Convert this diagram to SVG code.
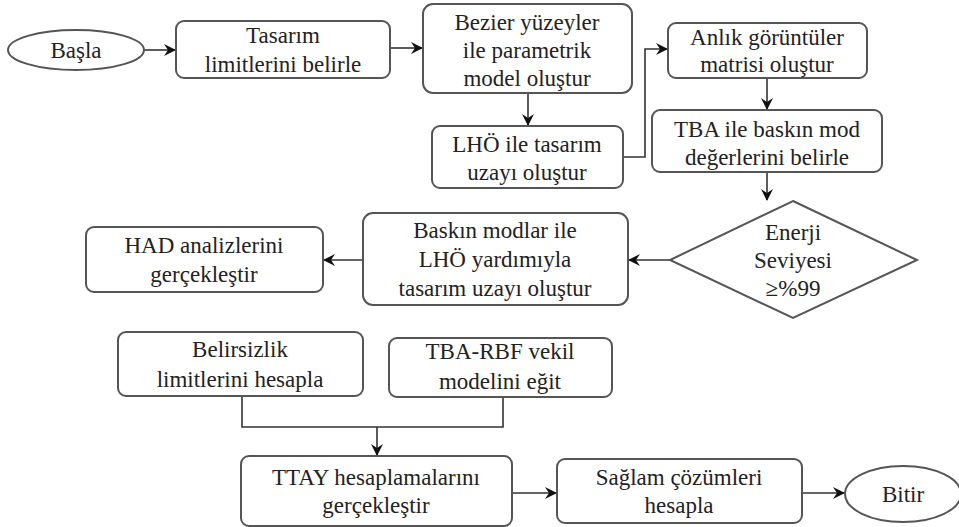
<svg xmlns="http://www.w3.org/2000/svg" width="959" height="527" viewBox="0 0 959 527">
<style>
.b{fill:#fff;stroke:#555;stroke-width:2}
.c{fill:none;stroke:#333;stroke-width:1.6}
.a{marker-end:url(#ah)}
text{font-family:'Liberation Serif','Times New Roman',serif;font-size:23px;fill:#222;text-anchor:middle}
</style>
<defs>
<marker id="ah" markerWidth="12" markerHeight="12" refX="11" refY="6" orient="auto" markerUnits="userSpaceOnUse">
<path d="M0,0 L12,6 L0,12 L4,6 z" fill="#111"/>
</marker>
</defs>
<rect width="959" height="527" fill="#fff"/>
<g id="connectors">
<path class="c a" d="M145,50 H175"/>
<path class="c a" d="M390,48 H422"/>
<path class="c a" d="M528,93 V125"/>
<path class="c a" d="M623,157 H645 V49 H667"/>
<path class="c a" d="M767,78 V109"/>
<path class="c a" d="M767,172 V200"/>
<path class="c a" d="M670,260 H629"/>
<path class="c a" d="M363,260 H324"/>
<path class="c" d="M242,396 V427 H503 V397"/>
<path class="c a" d="M377,427 V455"/>
<path class="c a" d="M512,493 H556"/>
<path class="c a" d="M802,493 H844"/>
</g>
<g id="basla"><ellipse class="b" cx="76" cy="50" rx="68" ry="20"/><text x="76" y="58">Başla</text></g>
<g id="tasarim"><rect class="b" x="176" y="21" width="214" height="57" rx="8"/><text x="283" y="43">Tasarım</text><text x="283" y="72">limitlerini  belirle</text></g>
<g id="bezier"><rect class="b" x="423" y="4" width="209" height="89" rx="10"/><text x="527" y="30">Bezier  yüzeyler</text><text x="527" y="58">ile  parametrik</text><text x="527" y="86">model oluştur</text></g>
<g id="lho"><rect class="b" x="432" y="126" width="191" height="62" rx="8"/><text x="527" y="152">LHÖ ile  tasarım</text><text x="527" y="180">uzayı oluştur</text></g>
<g id="anlik"><rect class="b" x="668" y="23" width="199" height="55" rx="8"/><text x="767" y="45">Anlık görüntüler</text><text x="767" y="72">matrisi  oluştur</text></g>
<g id="tba"><rect class="b" x="652" y="110" width="230" height="62" rx="8"/><text x="767" y="137">TBA ile  baskın mod</text><text x="767" y="165">değerlerini  belirle</text></g>
<g id="enerji"><polygon class="b" points="793,201 917,260 793,318 670,260"/><text x="793" y="240">Enerji</text><text x="793" y="268">Seviyesi</text><text x="793" y="296">≥%99</text></g>
<g id="baskin"><rect class="b" x="363" y="213" width="265" height="92" rx="10"/><text x="495" y="238">Baskın modlar ile</text><text x="495" y="267">LHÖ yardımıyla</text><text x="495" y="296">tasarım uzayı oluştur</text></g>
<g id="had"><rect class="b" x="86" y="227" width="237" height="65" rx="8"/><text x="204" y="253">HAD analizlerini</text><text x="204" y="282">gerçekleştir</text></g>
<g id="belirsizlik"><rect class="b" x="118" y="332" width="245" height="64" rx="8"/><text x="240" y="357">Belirsizlik</text><text x="240" y="387">limitlerini  hesapla</text></g>
<g id="tbarbf"><rect class="b" x="389" y="338" width="223" height="59" rx="8"/><text x="500" y="359">TBA-RBF vekil</text><text x="500" y="389">modelini  eğit</text></g>
<g id="ttay"><rect class="b" x="241" y="456" width="271" height="70" rx="8"/><text x="376" y="485">TTAY hesaplamalarını</text><text x="376" y="513">gerçekleştir</text></g>
<g id="saglam"><rect class="b" x="557" y="459" width="245" height="64" rx="8"/><text x="679" y="485">Sağlam  çözümleri</text><text x="679" y="513">hesapla</text></g>
<g id="bitir"><ellipse class="b" cx="903" cy="494" rx="58" ry="28"/><text x="903" y="502">Bitir</text></g>
</svg>
